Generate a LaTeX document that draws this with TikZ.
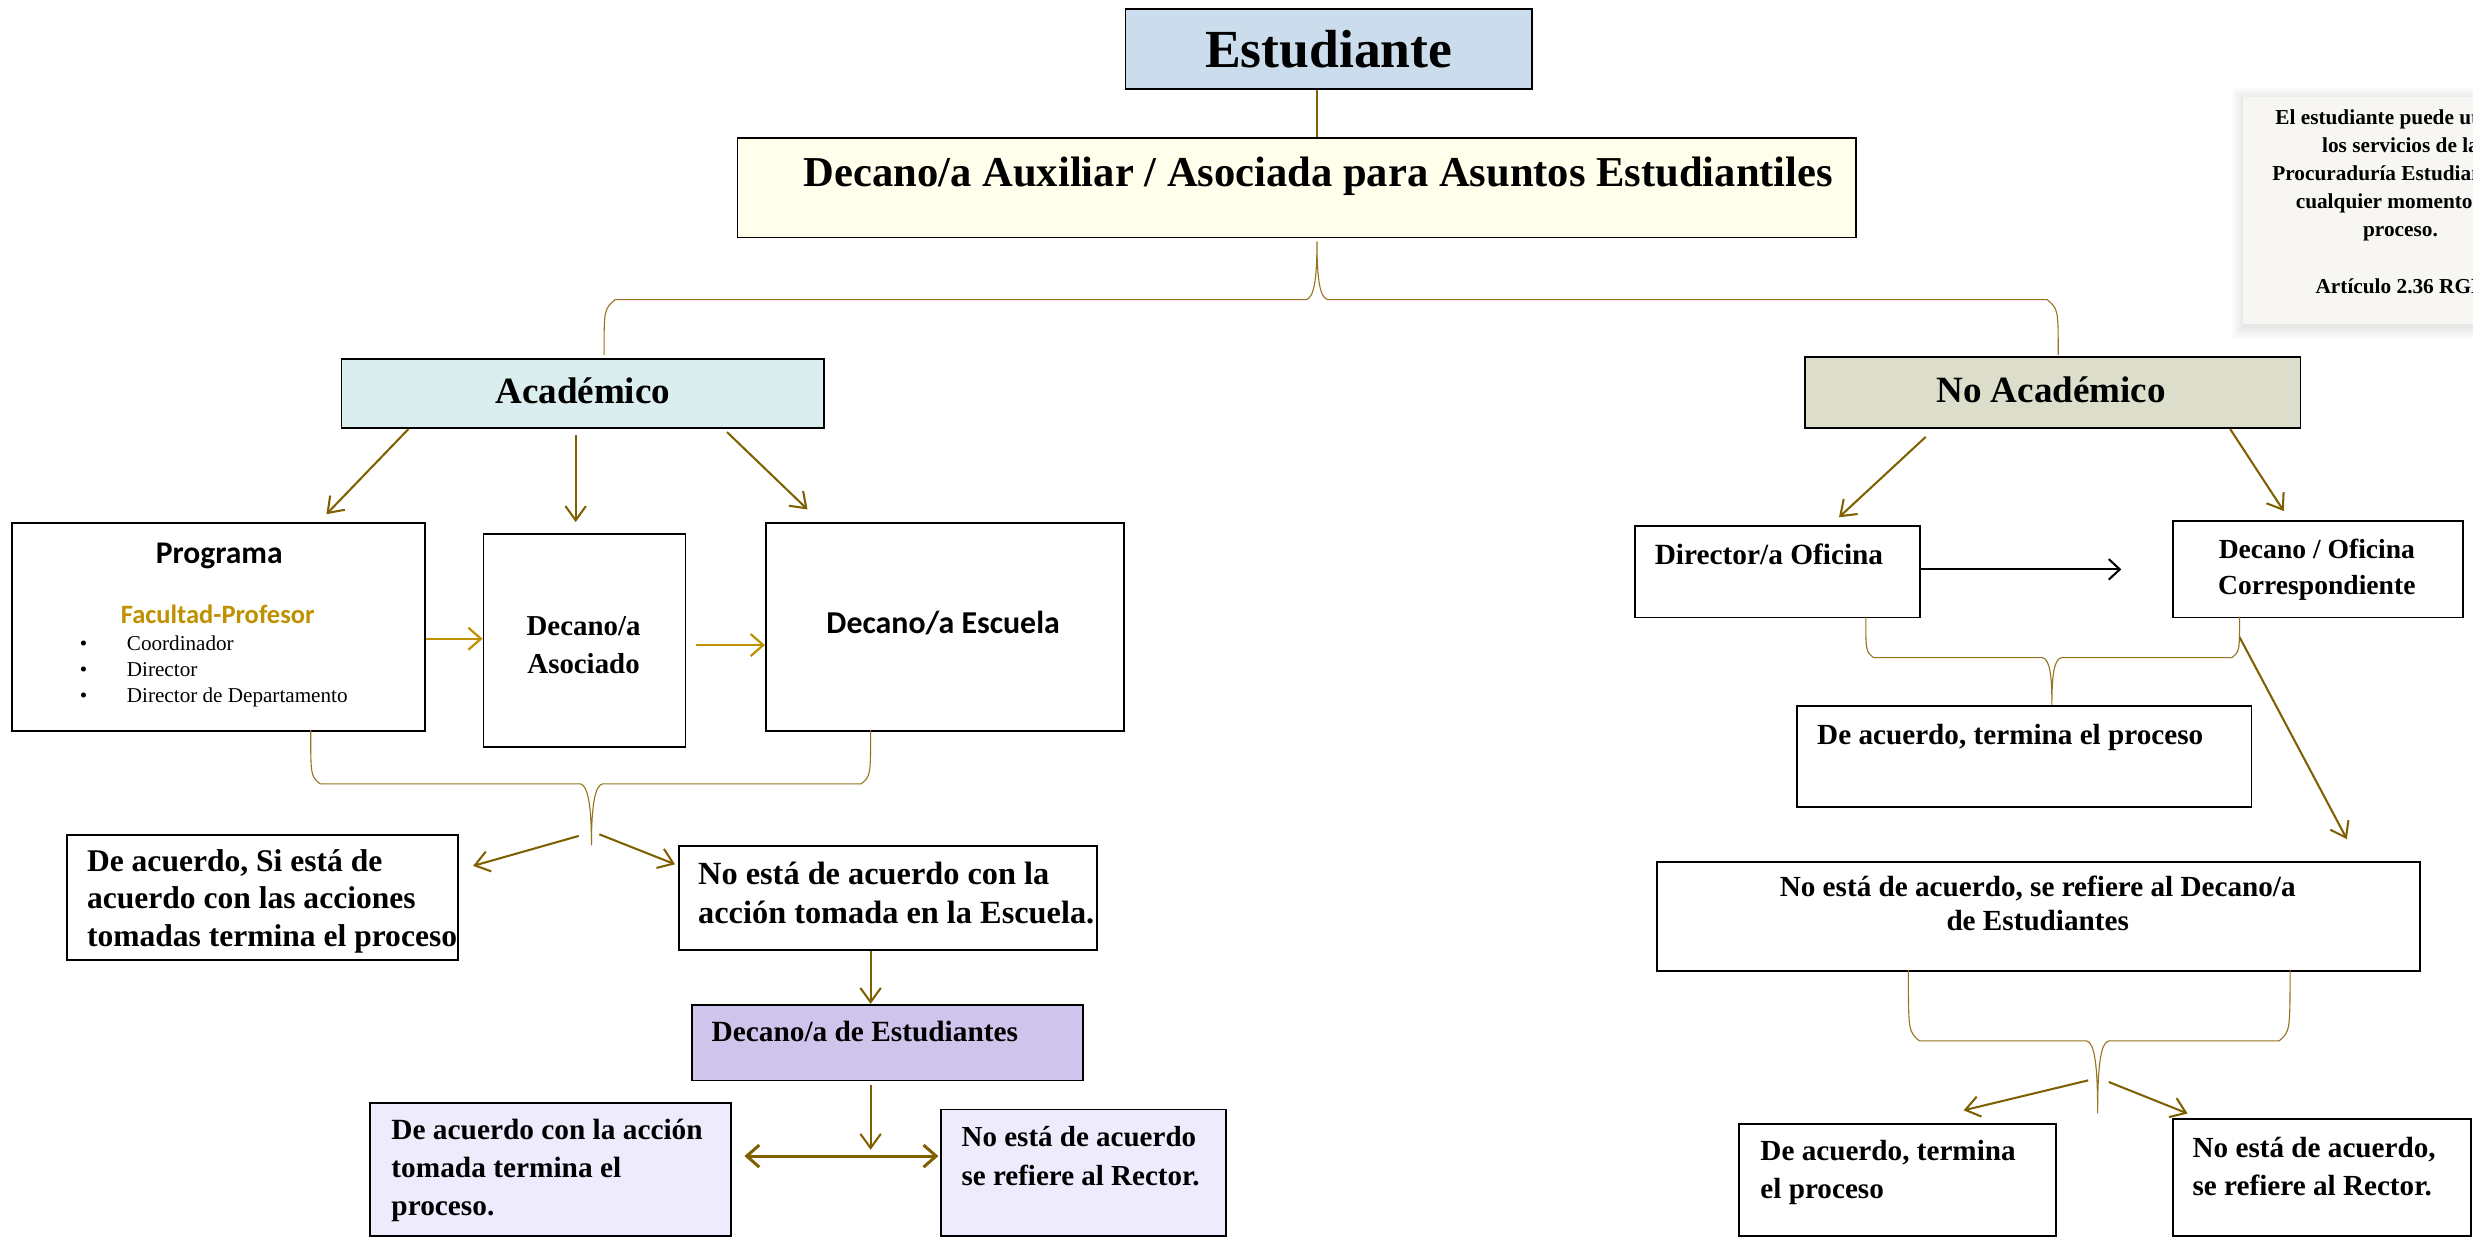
\documentclass[tikz,border=0pt]{standalone}
\usepackage{fontspec}
\setmainfont{Liberation Serif}
\newfontfamily\carlito{Carlito}
\usetikzlibrary{arrows.meta}
\definecolor{arrgold}{RGB}{127,96,0}
\definecolor{ligold}{RGB}{191,144,0}
\definecolor{bracec}{RGB}{148,116,30}
\definecolor{studfill}{RGB}{203,220,236}
\definecolor{auxfill}{RGB}{255,255,235}
\definecolor{acadfill}{RGB}{219,238,239}
\definecolor{noacadfill}{RGB}{221,221,204}
\definecolor{lavfill}{RGB}{207,196,236}
\definecolor{palefill}{RGB}{238,236,252}
\definecolor{notefill}{RGB}{247,246,242}
\tikzset{
  box/.style={draw=black, line width=1.1pt, inner sep=0pt, anchor=north west, fill=white},
  tx/.style={inner sep=0pt, anchor=base west, align=left},
  txc/.style={inner sep=0pt, anchor=base, align=center},
  garrow/.style={draw=arrgold, line width=1.3pt, -{Straight Barb[length=9pt,width=13pt]}},
  larrow/.style={draw=ligold, line width=1.4pt, -{Straight Barb[length=8pt,width=14pt]}},
  karrow/.style={draw=black, line width=1.3pt, -{Straight Barb[length=7pt,width=13pt]}},
  darrow/.style={draw=arrgold, line width=1.9pt, {Straight Barb[length=8pt,width=14pt]}-{Straight Barb[length=8pt,width=14pt]}},
  brace/.style={draw=bracec, line width=0.7pt},
  gline/.style={draw=arrgold, line width=1pt},
}
\newcommand{\fs}[2]{\fontsize{#1}{#2}\selectfont}
\begin{document}
\begin{tikzpicture}[x=1pt,y=-1pt]
\useasboundingbox (0,0) rectangle (1568,784);
\fill[white] (0,0) rectangle (1568,784);
\begin{scope}
\clip (0,0) rectangle (1568,784);

% ---------- note with soft shadow ----------
\foreach \d in {8,7,6,5,4,3,2,1}{
  \fill[black,opacity=0.012] (1422-\d+1,61.5-\d+2) rectangle (1622+\d+1,205+\d+2);
}
\node[inner sep=0pt, anchor=north west, fill=notefill, minimum width=200pt, minimum height=143.5pt] (note) at (1422,61.5) {};
\node[txc, font=\bfseries\fs{13.5}{17.8}] (notet) at (1522,186)
  {El estudiante puede utilizar\\los servicios de la\\Procuraduría Estudiantil en\\cualquier momento del\\proceso.\\[18pt]Artículo 2.36 RGE};

% ---------- boxes ----------
\node[box, fill=studfill, minimum width=258pt, minimum height=51pt] (stud) at (713,5) {};
\node[box, fill=auxfill, minimum width=709pt, minimum height=63pt] (aux) at (467,87) {};
\node[box, fill=acadfill, minimum width=306pt, minimum height=44pt] (acad) at (216,227) {};
\node[box, fill=noacadfill, minimum width=314pt, minimum height=45pt] (noacad) at (1144,226) {};
\node[box, minimum width=262pt, minimum height=132pt] (prog) at (7,331) {};
\node[box, minimum width=128pt, minimum height=135pt] (asoc) at (306,338) {};
\node[box, minimum width=227pt, minimum height=132pt] (esc) at (485,331) {};
\node[box, minimum width=248pt, minimum height=79pt] (acu1) at (42,529) {};
\node[box, minimum width=265pt, minimum height=66pt] (noacu1) at (430,536) {};
\node[box, fill=lavfill, minimum width=248pt, minimum height=48pt] (decest) at (438,636.5) {};
\node[box, fill=palefill, minimum width=229pt, minimum height=84pt] (acu2) at (234,699) {};
\node[box, fill=palefill, minimum width=181pt, minimum height=80pt] (rect1) at (596,703) {};
\node[box, minimum width=181pt, minimum height=58pt] (diro) at (1036,333) {};
\node[box, minimum width=184pt, minimum height=61pt] (deco) at (1377,330) {};
\node[box, minimum width=288pt, minimum height=64pt] (acu3) at (1139,447) {};
\node[box, minimum width=484pt, minimum height=69pt] (noacu3) at (1050,546) {};
\node[box, minimum width=201pt, minimum height=71pt] (acu4) at (1102,712) {};
\node[box, minimum width=189pt, minimum height=74pt] (rect2) at (1377,709) {};

% ---------- texts (multi-line nodes: base = last line) ----------
\node[txc, font=\bfseries\fs{34}{40}] (studt) at (842.5,43) {Estudiante};
\node[txc, font=\bfseries\fs{27}{32}] (auxt) at (836,118) {Decano/a Auxiliar / Asociada para Asuntos Estudiantiles};
\node[txc, font=\bfseries\fs{23.5}{28}] (acadt) at (369.5,256) {Académico};
\node[txc, font=\bfseries\fs{23.5}{28}] (noacadt) at (1300.5,255) {No Académico};
\node[txc, font=\carlito\bfseries\fs{20}{24}] (progt) at (139,357) {Programa};
\node[txc, font=\carlito\bfseries\fs{16.8}{20}, text=ligold] (facut) at (138,395.3) {Facultad-Profesor};
\node[tx, font=\fs{13.4}{16.5}] (listt) at (50.5,445.6)
  {\makebox[29.8pt][l]{\textbullet}Coordinador\\\makebox[29.8pt][l]{\textbullet}Director\\\makebox[29.8pt][l]{\textbullet}Director de Departamento};
\node[txc, font=\bfseries\fs{18.3}{24.2}] (asoct) at (370,426.9) {Decano/a\\Asociado};
\node[txc, font=\carlito\bfseries\fs{20.2}{24}] (esct) at (598,401.5) {Decano/a Escuela};
\node[tx, font=\bfseries\fs{20}{23.7}] (acu1t) at (55,600) {De acuerdo, Si está de\\acuerdo con las acciones\\tomadas termina el proceso};
\node[tx, font=\bfseries\fs{20.5}{24.4}] (noacu1t) at (442.5,585.4) {No está de acuerdo con la\\acción tomada en la Escuela.};
\node[tx, font=\bfseries\fs{18.6}{22}] (decestt) at (451,660.5) {Decano/a de Estudiantes};
\node[tx, font=\bfseries\fs{18.6}{24.1}] (acu2t) at (248,770.5) {De acuerdo con la acción\\tomada termina el\\proceso.};
\node[tx, font=\bfseries\fs{18.4}{24.4}] (rect1t) at (609.5,751.4) {No está de acuerdo\\se refiere al Rector.};
\node[tx, font=\bfseries\fs{18.6}{22}] (dirot) at (1049,358) {Director/a Oficina};
\node[txc, font=\bfseries\fs{17.5}{22.8}] (decot) at (1469,376.8) {Decano / Oficina\\Correspondiente};
\node[tx, font=\bfseries\fs{18.5}{22}] (acu3t) at (1152,472) {De acuerdo, termina el proceso};
\node[txc, font=\bfseries\fs{18.5}{21.1}] (noacu3t) at (1292,589.7) {No está de acuerdo, se refiere al Decano/a\\de Estudiantes};
\node[tx, font=\bfseries\fs{18.5}{24.2}] (acu4t) at (1116,759.8) {De acuerdo, termina\\el proceso};
\node[tx, font=\bfseries\fs{18.5}{24.2}] (rect2t) at (1390,758) {No está de acuerdo,\\se refiere al Rector.};

% ---------- connector coordinates ----------
\coordinate (b1tip) at (835,153);
\coordinate (b1l) at (383,225);
\coordinate (b1r) at (1305,225);
\draw[gline] (stud.south -| b1tip) -- (aux.north -| b1tip);

% top brace
\draw[brace] (b1l) .. controls (383,196) .. (390,190) -- (828,190)
  .. controls (833,189) and (835,178) .. (b1tip)
  .. controls (835,178) and (837,189) .. (842,190) -- (1298,190)
  .. controls (1305,196) .. (b1r);

% Academico arrows
\coordinate (a1s) at (259,272); \coordinate (a1e) at (207,326);
\coordinate (a2s) at (365,276); \coordinate (a2e) at (365,331);
\coordinate (a3s) at (461,274); \coordinate (a3e) at (512,323);
\draw[garrow] (a1s) -- (a1e);
\draw[garrow] (a2s) -- (a2e);
\draw[garrow] (a3s) -- (a3e);

% Programa -> Asociado -> Escuela
\draw[larrow] (prog.east |- 0,405) -- (asoc.west |- 0,405);
\coordinate (p2s) at (441,409);
\draw[larrow] (p2s) -- (esc.west |- p2s);

% left brace
\coordinate (b2tip) at (375,536);
\draw[brace] (197,463) .. controls (197,492) .. (203,497) -- (368,497)
  .. controls (373,498) and (375,512) .. (b2tip)
  .. controls (375,512) and (377,498) .. (382,497) -- (546,497)
  .. controls (552,492) .. (552,463);
\coordinate (c1s) at (367,530); \coordinate (c1e) at (300,549);
\coordinate (c2s) at (380,529); \coordinate (c2e) at (428,548);
\draw[garrow] (c1s) -- (c1e);
\draw[garrow] (c2s) -- (c2e);

% down to Decano de Estudiantes
\draw[garrow] (noacu1.south -| 552,0) -- (decest.north -| 552,0);
\coordinate (v2s) at (552,688); \coordinate (v2e) at (552,729);
\draw[garrow] (v2s) -- (v2e);
\coordinate (hl) at (472,733); \coordinate (hr) at (595,733);
\draw[darrow] (hl) -- (hr);

% No Academico arrows
\coordinate (r1s) at (1221,277); \coordinate (r1e) at (1166,328);
\coordinate (r2s) at (1414,272); \coordinate (r2e) at (1448,324);
\draw[garrow] (r1s) -- (r1e);
\draw[garrow] (r2s) -- (r2e);
\coordinate (ke) at (1345,361);
\draw[karrow] (diro.east |- ke) -- (ke);

% right upper brace
\coordinate (b3tip) at (1301,447);
\draw[brace] (1183,391) .. controls (1183,413) .. (1188,417) -- (1295,417)
  .. controls (1300,418) and (1301,430) .. (b3tip)
  .. controls (1301,430) and (1302,418) .. (1307,417) -- (1415,417)
  .. controls (1420,413) .. (1420,391);
\coordinate (ls) at (1420,404); \coordinate (le) at (1488,532);
\draw[garrow] (ls) -- (le);

% right lower brace
\coordinate (b4tip) at (1330,706);
\draw[brace] (1210,615) .. controls (1210,654) .. (1217,660) -- (1323,660)
  .. controls (1328,661) and (1330,675) .. (b4tip)
  .. controls (1330,675) and (1332,661) .. (1337,660) -- (1445,660)
  .. controls (1452,654) .. (1452,615);
\coordinate (d1s) at (1324,685); \coordinate (d1e) at (1245,704);
\coordinate (d2s) at (1337,686); \coordinate (d2e) at (1387,706);
\draw[garrow] (d1s) -- (d1e);
\draw[garrow] (d2s) -- (d2e);
\end{scope}
\end{tikzpicture}
\end{document}
